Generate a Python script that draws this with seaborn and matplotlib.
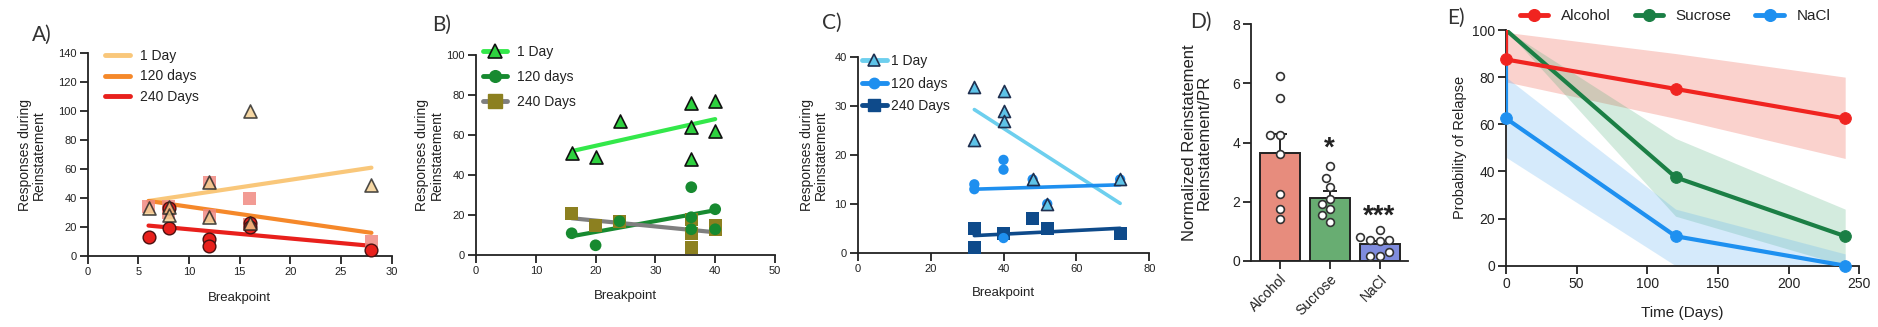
import numpy as np
import pandas as pd
import matplotlib
matplotlib.use("Agg")
import matplotlib.pyplot as plt
from matplotlib.lines import Line2D
import seaborn as sns

# ---------------- data ----------------
series_labels = ["1 Day", "120 days", "240 Days"]

# Panel A
a_bp = [6, 8, 8, 12, 12, 16, 16, 28]
a_1day = [33, 34, 28, 51, 27, 100, 23, 49]
a_120days = [34, 34, 30, 51, 28, 40, 22, 10]
a_240days = [13, 33, 19, 11.5, 7, 23, 20, 4]
a_fit_bp = [6, 28]
a_fit_1day = [38, 61]
a_fit_120days = [38, 16]
a_fit_240days = [21, 7]

# Panel B
b_bp = [16, 20, 24, 36, 36, 36, 40, 40]
b_1day = [51, 49, 67, 76, 64, 48, 77, 62]
b_120days = [11, 5, 17, 34, 19, 13, 23, 13]
b_240days = [21, 15, 17, 18, 11, 4, 15, 13]
b_fit_bp = [16, 40]
b_fit_1day = [52, 68]
b_fit_120days = [9.5, 22.5]
b_fit_240days = [18.5, 11.5]

# Panel C
c_bp = [32, 32, 40, 40, 40, 48, 52, 72]
c_1day = [34, 23, 33, 29, 27, 15, 10, 15]
c_120days = [14, 13, 19, 17, 3, 15, 10, 15]
c_bp_240 = [32, 32, 40, 48, 52, 72]
c_240days = [5, 1, 4, 7, 5, 4]
c_fit_bp = [32, 72]
c_fit_1day = [29.3, 10.1]
c_fit_120days = [13.0, 13.9]
c_fit_240days = [3.5, 5.0]

# Panel D
d_groups = ["Alcohol", "Sucrose", "NaCl"]
d_alcohol = [6.25, 5.5, 4.25, 4.25, 3.6, 2.25, 1.75, 1.42]
d_sucrose = [3.2, 2.79, 2.49, 2.08, 1.92, 1.75, 1.55, 1.33]
d_nacl = [1.05, 0.8, 0.71, 0.69, 0.71, 0.29, 0.18, 0.18]
d_stars = ["", "*", "***"]
d_star_y = [0, 3.55, 1.25]

# Panel E
e_groups = ["Alcohol", "Sucrose", "NaCl"]
e_time = [0, 0, 120, 240]
e_alcohol = [100, 87.5, 75, 62.5]
e_sucrose = [100, 100, 37.5, 12.5]
e_nacl = [100, 62.5, 12.5, 0]
e_band_time = [0, 120, 240]
e_alcohol_lo = [78, 62.5, 45.5]
e_alcohol_hi = [99, 90, 80]
e_sucrose_lo = [100, 21, 0]
e_sucrose_hi = [100, 54, 24]
e_nacl_lo = [46, 0, 0]
e_nacl_hi = [80, 24, 5]

# ---------------- style ----------------
sns.set_theme(style="ticks")
plt.rcParams["font.family"] = ["Liberation Sans", "DejaVu Sans"]
TXT = "#222222"
plt.rcParams.update({
    "axes.edgecolor": TXT, "axes.linewidth": 1.3,
    "xtick.color": TXT, "ytick.color": TXT,
    "text.color": TXT, "axes.labelcolor": TXT,
})

W, H = 1878, 327
fig = plt.figure(figsize=(W / 100, H / 100), dpi=100)


def add_ax(l, r, t, b):
    return fig.add_axes([l / W, 1 - b / H, (r - l) / W, (b - t) / H])


def style(ax, tsize=8):
    sns.despine(ax=ax)
    ax.tick_params(length=6, width=1.3, labelsize=tsize, pad=2)


def panel_letter(x, y, s):
    fig.text(x / W, 1 - y / H, s, fontsize=15, family="Lato", va="center", ha="left", color="#333333")


# ---------------- Panel A ----------------
ax = add_ax(87.7, 391.7, 53.3, 256)
cA = ["#F9C77A", "#F5882A", "#E8201C"]
sns.lineplot(x=a_fit_bp, y=a_fit_1day, color=cA[0], lw=3, ax=ax, zorder=2)
sns.lineplot(x=a_fit_bp, y=a_fit_120days, color=cA[1], lw=3, ax=ax, zorder=2)
sns.lineplot(x=a_fit_bp, y=a_fit_240days, color=cA[2], lw=3, ax=ax, zorder=2)
sns.scatterplot(x=a_bp, y=a_120days, marker="s", s=88, color="#F08A82", alpha=0.85,
                edgecolor="none", ax=ax, zorder=3, legend=False, clip_on=False)
sns.scatterplot(x=a_bp, y=a_240days, marker="o", s=84, color="#E8201C",
                edgecolor="#4A1010", linewidth=1.0, ax=ax, zorder=4, legend=False, clip_on=False)
sns.scatterplot(x=a_bp, y=a_1day, marker="^", s=88, color="#F3CE8E", alpha=0.8,
                edgecolor="#222222", linewidth=1.2, ax=ax, zorder=5, legend=False, clip_on=False)
ax.set_xlim(0, 30)
ax.set_ylim(0, 140)
ax.set_xticks(range(0, 31, 5))
ax.set_yticks(range(0, 141, 20))
style(ax)
ax.set_xlabel("Breakpoint", fontsize=9.5)
ax.set_ylabel("Responses during\nReinstatement", fontsize=10, linespacing=1.0)
ax.xaxis.set_label_coords(0.5, -0.178)
ax.yaxis.set_label_coords(-0.137, 0.5)
hA = [Line2D([], [], color=c, lw=3.5) for c in cA]
ax.legend(hA, series_labels, loc="upper left", bbox_to_anchor=(105 / W, 1 - 49 / H),
          bbox_transform=fig.transFigure, frameon=False, fontsize=10, borderpad=0,
          borderaxespad=0, handlelength=1.8, handletextpad=0.7, labelspacing=0.46)
panel_letter(32, 35, "A)")

# ---------------- Panel B ----------------
ax = add_ax(476, 775, 55, 255.3)
sns.lineplot(x=b_fit_bp, y=b_fit_1day, color="#33E84A", lw=3, ax=ax, zorder=2)
sns.lineplot(x=b_fit_bp, y=b_fit_120days, color="#178A30", lw=3, ax=ax, zorder=2)
sns.lineplot(x=b_fit_bp, y=b_fit_240days, color="#7F7F7F", lw=3, ax=ax, zorder=2)
sns.scatterplot(x=b_bp, y=b_240days, marker="s", s=88, color="#8C8020",
                edgecolor="none", ax=ax, zorder=3, legend=False, clip_on=False)
sns.scatterplot(x=b_bp, y=b_120days, marker="o", s=71, color="#178A30",
                edgecolor="none", ax=ax, zorder=4, legend=False, clip_on=False)
sns.scatterplot(x=b_bp, y=b_1day, marker="^", s=88, color="#2ED13F",
                edgecolor="#111111", linewidth=1.2, ax=ax, zorder=5, legend=False, clip_on=False)
ax.set_xlim(0, 50)
ax.set_ylim(0, 100)
ax.set_xticks(range(0, 51, 10))
ax.set_yticks(range(0, 101, 20))
style(ax)
ax.set_xlabel("Breakpoint", fontsize=9.5)
ax.set_ylabel("Responses during\nReinstatement", fontsize=10, linespacing=1.0)
ax.xaxis.set_label_coords(0.5, -0.173)
ax.yaxis.set_label_coords(-0.109, 0.5)
hB = [Line2D([], [], color="#33E84A", lw=3.5, marker="^", ms=9.4, mfc="#2ED13F", mec="#111111", mew=1.2),
      Line2D([], [], color="#178A30", lw=3.5, marker="o", ms=8.4, mfc="#178A30", mec="#178A30"),
      Line2D([], [], color="#7F7F7F", lw=3.5, marker="s", ms=9.4, mfc="#8C8020", mec="#8C8020")]
ax.legend(hB, series_labels, loc="upper left", bbox_to_anchor=(483 / W, 1 - 45 / H),
          bbox_transform=fig.transFigure, frameon=False, fontsize=10, borderpad=0,
          borderaxespad=0, handlelength=1.75, handletextpad=0.7, labelspacing=0.8)
panel_letter(432, 25, "B)")

# ---------------- Panel C ----------------
ax = add_ax(857.7, 1149.3, 57.3, 252.7)
sns.lineplot(x=c_fit_bp, y=c_fit_1day, color="#6DCFEE", lw=2.6, ax=ax, zorder=2)
sns.lineplot(x=c_fit_bp, y=c_fit_120days, color="#1E8FEF", lw=2.6, ax=ax, zorder=2)
sns.lineplot(x=c_fit_bp, y=c_fit_240days, color="#0E4A8A", lw=2.6, ax=ax, zorder=2)
sns.scatterplot(x=c_bp_240, y=c_240days, marker="s", s=84, color="#0E4A8A",
                edgecolor="none", ax=ax, zorder=3, legend=False, clip_on=False)
sns.scatterplot(x=c_bp, y=c_120days, marker="o", s=55, color="#1E8FEF",
                edgecolor="none", ax=ax, zorder=4, legend=False, clip_on=False)
sns.scatterplot(x=c_bp, y=c_1day, marker="^", s=75, color="#5EC3E8",
                edgecolor="#1F3050", linewidth=1.2, ax=ax, zorder=5, legend=False, clip_on=False)
ax.set_xlim(0, 80)
ax.set_ylim(0, 40)
ax.set_xticks(range(0, 81, 20))
ax.set_yticks(range(0, 41, 10))
style(ax)
ax.set_xlabel("Breakpoint", fontsize=9.5)
ax.set_ylabel("Responses during\nReinstatement", fontsize=10, linespacing=1.0)
ax.xaxis.set_label_coords(0.5, -0.174)
ax.yaxis.set_label_coords(-0.101, 0.5)
hC = [Line2D([], [], color="#6DCFEE", lw=3.5, marker="^", ms=8.6, mfc="#5EC3E8", mec="#1F3050", mew=1.2),
      Line2D([], [], color="#1E8FEF", lw=3.5, marker="o", ms=7.5, mfc="#1E8FEF", mec="#1E8FEF"),
      Line2D([], [], color="#0E4A8A", lw=3.5, marker="s", ms=9.0, mfc="#0E4A8A", mec="#0E4A8A")]
ax.legend(hC, series_labels, loc="upper left", bbox_to_anchor=(861.7 / W, 1 - 54 / H),
          bbox_transform=fig.transFigure, frameon=False, fontsize=10, borderpad=0,
          borderaxespad=0, handlelength=1.8, handletextpad=0.3, labelspacing=0.62)
panel_letter(822, 22.5, "C)")

# ---------------- Panel D ----------------
ax = add_ax(1251, 1408, 24, 261)
dfD = pd.DataFrame({
    "group": np.repeat(d_groups, [len(d_alcohol), len(d_sucrose), len(d_nacl)]),
    "value": d_alcohol + d_sucrose + d_nacl,
})
palD = {"Alcohol": "#F8806C", "Sucrose": "#5CB96A", "NaCl": "#6F80EE"}
sns.barplot(data=dfD, x="group", y="value", hue="group", palette=palD, order=d_groups,
            errorbar=None, width=0.8, edgecolor="#222222", linewidth=1.4, ax=ax,
            legend=False, zorder=2)
stats = dfD.groupby("group", sort=False)["value"].agg(["mean", "sem"]).reindex(d_groups)
ax.errorbar(x=np.arange(len(d_groups)), y=stats["mean"].values,
            yerr=[np.zeros(len(d_groups)), stats["sem"].values], fmt="none",
            ecolor="#222222", elinewidth=1.4, capsize=5, capthick=1.4, zorder=1)
sns.swarmplot(data=dfD, x="group", y="value", order=d_groups, color="white",
              edgecolor="#333333", linewidth=1.2, size=5.6, ax=ax, zorder=4)
for i, s in enumerate(d_stars):
    if s:
        ax.text(i, d_star_y[i], s, ha="center", va="baseline", fontsize=20, fontweight="bold")
ax.set_xlim(-0.57, 2.57)
ax.set_ylim(0, 8)
ax.set_yticks(range(0, 9, 2))
style(ax, tsize=10)
ax.set_xlabel("")
ax.set_xticks(range(3))
ax.set_xticklabels(d_groups, rotation=45, ha="right", rotation_mode="anchor", fontsize=10)
ax.set_ylabel("Normalized Reinstatement\nReinstatement/PR", fontsize=12, linespacing=1.0)
ax.yaxis.set_label_coords(-0.25, 0.5)
panel_letter(1190, 21.7, "D)")

# ---------------- Panel E ----------------
ax = add_ax(1506, 1859.3, 30, 265.7)
cE = {"Alcohol": "#F02420", "Sucrose": "#1B7F45", "NaCl": "#1E90F0"}
ax.fill_between(e_band_time, e_alcohol_lo, e_alcohol_hi, color="#F06A5A", alpha=0.3, lw=0, zorder=1)
ax.fill_between(e_band_time, e_sucrose_lo, e_sucrose_hi, color="#3AA56A", alpha=0.22, lw=0, zorder=1)
ax.fill_between(e_band_time, e_nacl_lo, e_nacl_hi, color="#5AAFF0", alpha=0.25, lw=0, zorder=1)
for g, vals in [("NaCl", e_nacl), ("Sucrose", e_sucrose), ("Alcohol", e_alcohol)]:
    sns.lineplot(x=e_time, y=vals, sort=False, estimator=None, color=cE[g], lw=3, ax=ax, zorder=3)
    start = 2 if g == "Sucrose" else 1
    sns.scatterplot(x=e_time[start:], y=vals[start:], s=71, color=cE[g], edgecolor=cE[g],
                    ax=ax, zorder=4, legend=False, clip_on=False)
ax.set_xlim(0, 250)
ax.set_ylim(0, 100)
ax.set_xticks(range(0, 251, 50))
ax.set_yticks(range(0, 101, 20))
style(ax, tsize=10)
ax.set_xlabel("Time (Days)", fontsize=11)
ax.set_ylabel("Probability of Relapse", fontsize=10.5)
ax.xaxis.set_label_coords(0.5, -0.171)
ax.yaxis.set_label_coords(-0.111, 0.5)
hE = [Line2D([], [], color=cE[g], lw=3.5, marker="o", ms=8.4) for g in e_groups]
ax.legend(hE, e_groups, loc="upper left", ncol=3, bbox_to_anchor=(1520 / W, 1 - 9.3 / H),
          bbox_transform=fig.transFigure, frameon=False, fontsize=11, borderpad=0,
          borderaxespad=0, handlelength=1.85, handletextpad=0.83, columnspacing=1.57)
panel_letter(1447, 18, "E)")

fig.savefig("out.png", dpi=100)
